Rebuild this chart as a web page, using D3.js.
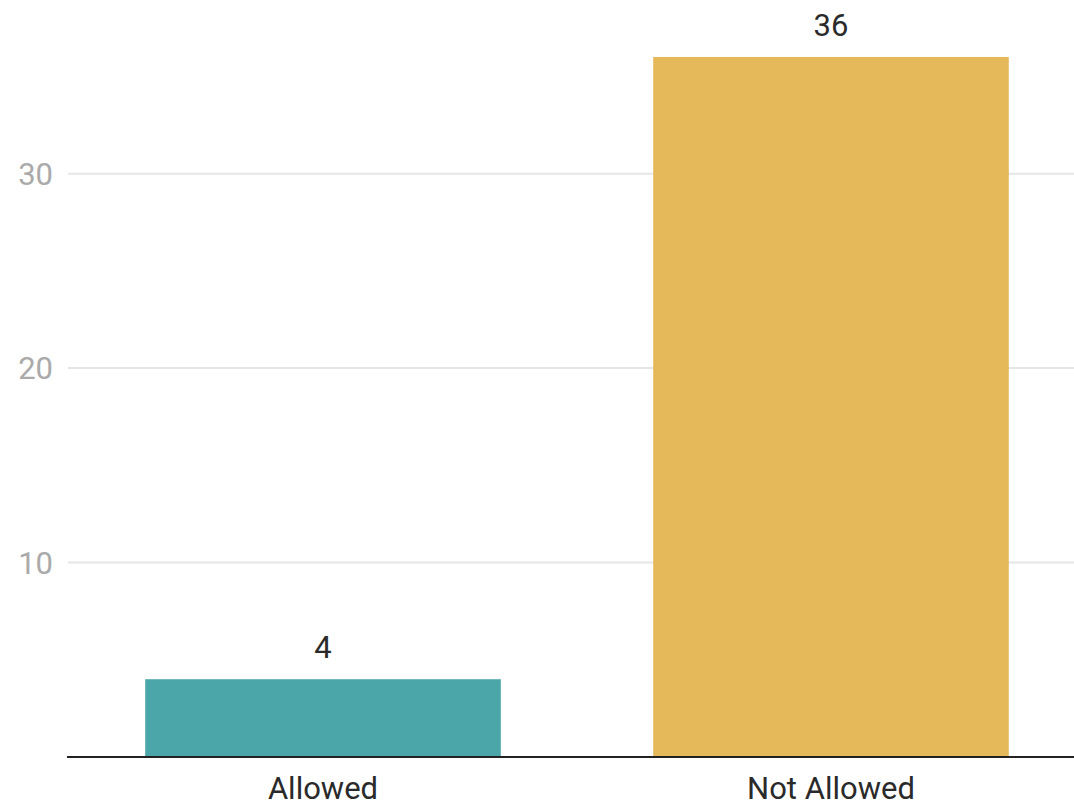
<!DOCTYPE html>
<html><head><meta charset="utf-8">
<script src="https://cdn.jsdelivr.net/npm/d3@7"></script>
<style>html,body{margin:0;padding:0;background:#fff;}svg{display:block;font-family:Roboto,sans-serif;}</style>
</head><body>
<svg id="c" width="1074" height="805"></svg>
<script>
const categories = ["Allowed", "Not Allowed"];
const values = [4, 36];
const colors = ["#4ba6a9", "#e5b85a"];
const yTicks = [10, 20, 30];

(function () {
const svg = d3.select("#c");
const mLeft = 68, mRight = 1074, mTop = 57, mBottom = 757;
const x = d3.scaleBand().domain(categories).range([69, 1085]).paddingInner(0.3).paddingOuter(0.15);
const y = d3.scaleLinear().domain([0, 36]).range([mBottom, mTop]);

// gridlines
svg.append("g").selectAll("line").data(yTicks).join("line")
  .attr("x1", mLeft).attr("x2", mRight)
  .attr("y1", d => y(d)).attr("y2", d => y(d))
  .attr("stroke", "#e6e6e6").attr("stroke-width", 2);
svg.append("g").selectAll("text").data(yTicks).join("text")
  .attr("x", 53).attr("y", d => y(d)).attr("dy", "0.355em")
  .attr("text-anchor", "end").attr("fill", "#aaaaaa").attr("font-size", 31)
  .text(d => d);

// bars
svg.append("g").selectAll("rect").data(values).join("rect")
  .attr("x", (d, i) => x(categories[i])).attr("width", x.bandwidth())
  .attr("y", d => y(d)).attr("height", d => mBottom - y(d))
  .attr("fill", (d, i) => colors[i]);

// value labels
svg.append("g").selectAll("text").data(values).join("text")
  .attr("x", (d, i) => x(categories[i]) + x.bandwidth() / 2)
  .attr("y", d => y(d) - 21)
  .attr("text-anchor", "middle").attr("fill", "#2a2a2a").attr("font-size", 31)
  .text(d => d);

// baseline
svg.append("line").attr("x1", 67).attr("x2", mRight).attr("y1", mBottom).attr("y2", mBottom)
  .attr("stroke", "#222").attr("stroke-width", 2);

// x labels
svg.append("g").selectAll("text").data(categories).join("text")
  .attr("x", d => x(d) + x.bandwidth() / 2).attr("y", 799)
  .attr("text-anchor", "middle").attr("fill", "#2a2a2a").attr("font-size", 31)
  .text(d => d);
})();
</script>
</body></html>
